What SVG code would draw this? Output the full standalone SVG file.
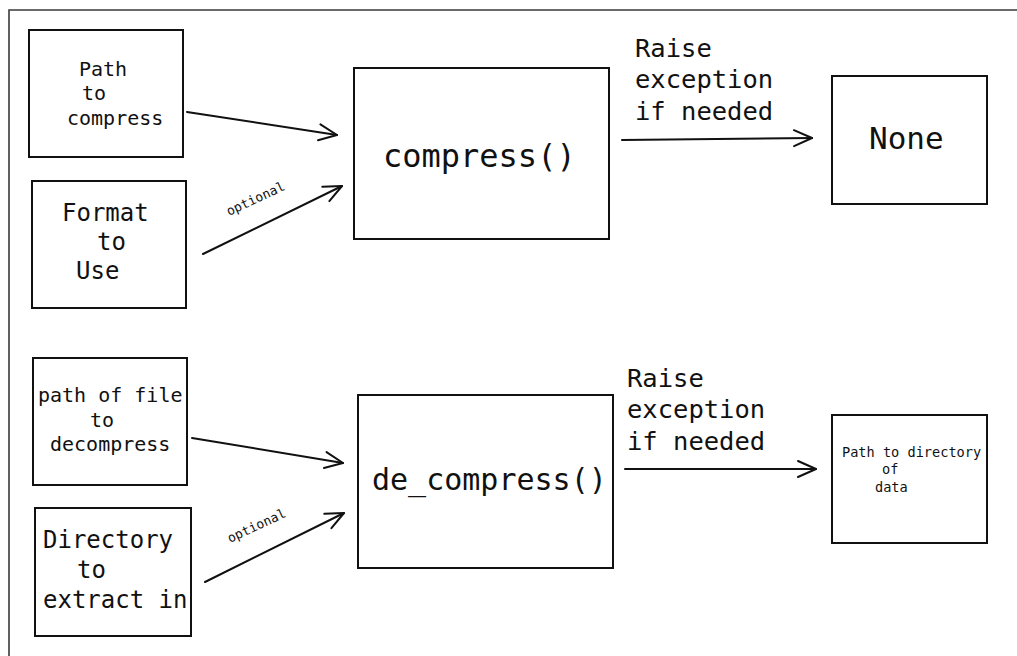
<svg xmlns="http://www.w3.org/2000/svg" width="1017" height="656" viewBox="0 0 1017 656">
  <style>
    .box { fill: #ffffff; stroke: #111111; stroke-width: 2; }
    .edge { fill: none; stroke: #111111; stroke-width: 2; stroke-linecap: round; }
    .frame { fill: none; stroke: #3a3a3a; stroke-width: 1.6; }
    text { font-family: "DejaVu Sans Mono", "Liberation Mono", monospace; fill: #111111; }
    .t20 { font-size: 20px; }
    .t24 { font-size: 24px; }
    .t25 { font-size: 25.5px; }
    .t30 { font-size: 30px; }
    .t31 { font-size: 31px; }
    .t32 { font-size: 32px; }
    .t13 { font-size: 13.6px; }
    .lbl { font-size: 13px; }
  </style>
  <defs>
    <marker id="chevron" markerUnits="userSpaceOnUse" viewBox="-20 -10 22 20" markerWidth="22" markerHeight="20" refX="0" refY="0" orient="auto" overflow="visible">
      <path d="M-18,-8 L0,0 L-18,8" fill="none" stroke="#111111" stroke-width="2" stroke-linecap="round" stroke-linejoin="round"/>
    </marker>
  </defs>

  <rect width="1017" height="656" fill="#ffffff"/>

  <!-- outer frame: top and left edges only -->
  <path class="frame" d="M9,656 L9,10 L1017,10"/>

  <!-- compress inputs -->
  <g id="path-to-compress">
    <rect class="box" x="29" y="30" width="154" height="127"/>
    <text class="t20" x="79" y="76">Path</text>
    <text class="t20" x="82" y="100">to</text>
    <text class="t20" x="67" y="125">compress</text>
  </g>
  <g id="format-to-use">
    <rect class="box" x="32" y="181" width="154" height="127"/>
    <text class="t24" x="62" y="221">Format</text>
    <text class="t24" x="97" y="250">to</text>
    <text class="t24" x="76" y="279">Use</text>
  </g>
  <g id="compress">
    <rect class="box" x="354" y="68" width="255" height="171"/>
    <text class="t32" x="383" y="167">compress()</text>
  </g>
  <g id="none">
    <rect class="box" x="832" y="76" width="155" height="128"/>
    <text class="t31" x="869" y="149">None</text>
  </g>

  <!-- de_compress inputs -->
  <g id="path-of-file">
    <rect class="box" x="33" y="358" width="154" height="127"/>
    <text class="t20" x="38" y="402">path of file</text>
    <text class="t20" x="90" y="427">to</text>
    <text class="t20" x="50" y="451">decompress</text>
  </g>
  <g id="directory-to-extract">
    <rect class="box" x="35" y="508" width="156" height="128"/>
    <text class="t24" x="43" y="548">Directory</text>
    <text class="t24" x="77" y="578">to</text>
    <text class="t24" x="43" y="608">extract in</text>
  </g>
  <g id="de-compress">
    <rect class="box" x="358" y="395" width="255" height="173"/>
    <text class="t30" x="372" y="490">de_compress()</text>
  </g>
  <g id="path-to-directory">
    <rect class="box" x="832" y="415" width="155" height="128"/>
    <text class="t13" x="842" y="457">Path to directory</text>
    <text class="t13" x="882" y="474">of</text>
    <text class="t13" x="875" y="492">data</text>
  </g>

  <!-- connectors -->
  <g id="connectors">
    <path class="edge" d="M187,112 L337,135" marker-end="url(#chevron)"/>
    <path class="edge" d="M203,254 L342,186" marker-end="url(#chevron)"/>
    <text class="lbl" transform="translate(229,216) rotate(-25)">optional</text>
    <path class="edge" d="M622,140 L812,138" marker-end="url(#chevron)"/>
    <text class="t25" x="635" y="57">Raise</text>
    <text class="t25" x="635" y="88">exception</text>
    <text class="t25" x="635" y="120">if needed</text>

    <path class="edge" d="M192,438 L343,463" marker-end="url(#chevron)"/>
    <path class="edge" d="M205,582 L344,513" marker-end="url(#chevron)"/>
    <text class="lbl" transform="translate(230,543) rotate(-25)">optional</text>
    <path class="edge" d="M625,469 L816,469" marker-end="url(#chevron)"/>
    <text class="t25" x="627" y="387">Raise</text>
    <text class="t25" x="627" y="418">exception</text>
    <text class="t25" x="627" y="450">if needed</text>
  </g>
</svg>
